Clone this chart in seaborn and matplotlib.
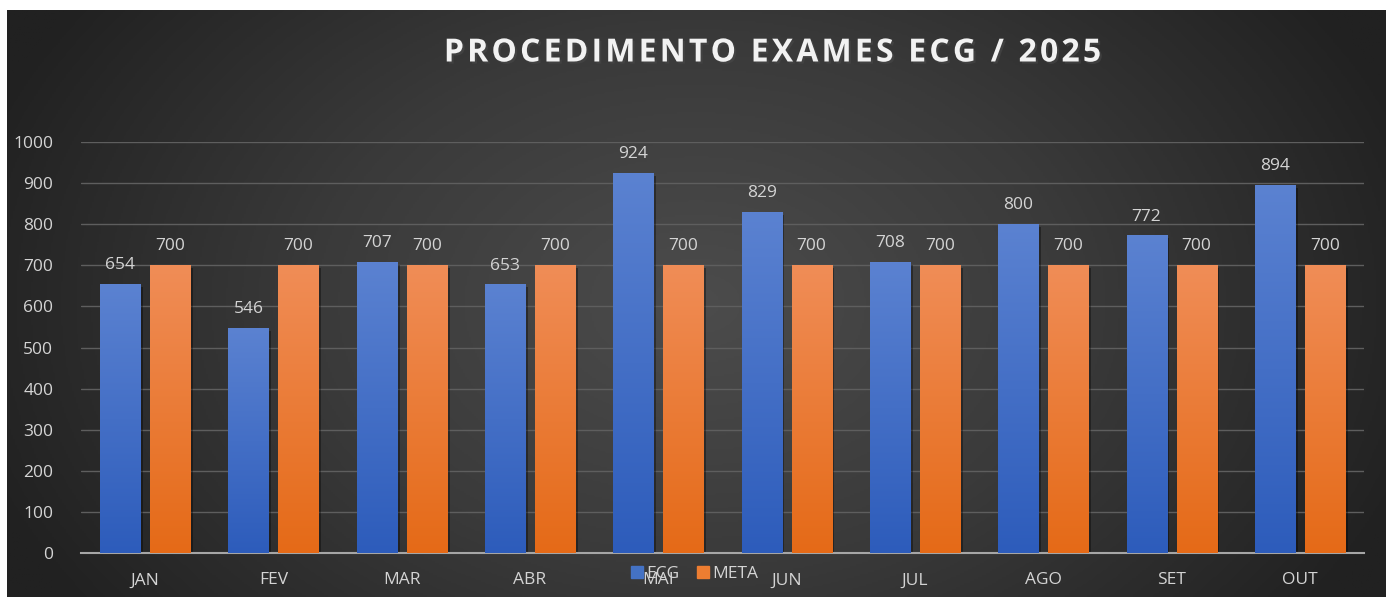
import numpy as np
import matplotlib
matplotlib.use('Agg')
import matplotlib.pyplot as plt
import matplotlib.patheffects as pe
from matplotlib.colors import LinearSegmentedColormap
from matplotlib.lines import Line2D
import pandas as pd
import seaborn as sns

months = ['JAN', 'FEV', 'MAR', 'ABR', 'MAI', 'JUN', 'JUL', 'AGO', 'SET', 'OUT']
ecg = [654, 546, 707, 653, 924, 829, 708, 800, 772, 894]
meta = [700, 700, 700, 700, 700, 700, 700, 700, 700, 700]
series = ['ECG', 'META']
title = 'PROCEDIMENTO EXAMES ECG / 2025'

df = pd.DataFrame({
    'mes': months * 2,
    'valor': ecg + meta,
    'serie': ['ECG'] * len(months) + ['META'] * len(months),
})

sns.set_theme(style='dark')
plt.rcParams['font.family'] = ['Open Sans', 'DejaVu Sans']
txt = '#d4d4d4'

fig = plt.figure(figsize=(13.86, 5.97), dpi=100, facecolor='white')

# dark radial background
bg = fig.add_axes([7 / 1386, 0, 1 - 7 / 1386, 1 - 10 / 597])
yy, xx = np.mgrid[0:1:300j, 0:1:700j]
r = np.sqrt(((xx - 0.5) / 0.55) ** 2 + ((yy - 0.5) / 0.9) ** 2)
bg_cmap = LinearSegmentedColormap.from_list('bg', ['#4c4c4c', '#3a3a3a', '#212121'])
bg.imshow(np.clip(r, 0, 1), cmap=bg_cmap, aspect='auto', extent=[0, 1, 0, 1], vmin=0, vmax=1)
bg.set_axis_off()

ax = fig.add_axes([81 / 1386, 44 / 597, (1364 - 81) / 1386, (553 - 142) / 597])
ax.set_facecolor('none')
sns.barplot(data=df, x='mes', y='valor', hue='serie', order=months, hue_order=series,
            palette=['#4472c4', '#ed7d31'], width=0.78, gap=0.2, ax=ax, legend=False,
            saturation=1, edgecolor='none')

grads = {
    'ECG': LinearSegmentedColormap.from_list('b', ['#2d5cbb', '#5b82d1']),
    'META': LinearSegmentedColormap.from_list('o', ['#e56a17', '#f08d57']),
}
grad = np.linspace(0, 1, 256).reshape(-1, 1)
for cont, name in zip(ax.containers, series):
    for bar in cont:
        x0, w, h = bar.get_x(), bar.get_width(), bar.get_height()
        bar.set_path_effects([pe.SimplePatchShadow(offset=(2, -2), shadow_rgbFace='black', alpha=0.35), pe.Normal()])
        ax.imshow(grad, cmap=grads[name], origin='lower', aspect='auto',
                  extent=[x0, x0 + w, 0, h], zorder=3)
    ax.bar_label(cont, padding=8, color=txt, fontsize=12.5)

ax.set_xlim(-0.5, len(months) - 0.5)
ax.set_ylim(0, 1000)
ax.set_yticks(np.arange(0, 1001, 100))
ax.yaxis.grid(True, color='#5e5e5e', linewidth=1)
ax.set_axisbelow(True)
ax.set_xlabel('')
ax.set_ylabel('')
for s in ['top', 'right', 'left']:
    ax.spines[s].set_visible(False)
ax.spines['bottom'].set_color('#a6a6a6')
ax.spines['bottom'].set_linewidth(1.5)
ax.tick_params(axis='x', colors=txt, labelsize=12.5, length=0, pad=14)
ax.tick_params(axis='y', colors=txt, labelsize=12.5, length=0, pad=20)

# letter-spaced title (hair spaces between letters)
spaced = '\u200a'.join(title)
fig.text(0.5585, 1 - 53 / 597, spaced, ha='center', va='center',
         fontsize=23, fontweight='bold', color='#f2f2f2',
         path_effects=[pe.withSimplePatchShadow(offset=(1.5, -1.5), alpha=0.6)])

handles = [Line2D([], [], marker='s', linestyle='', color='#4472c4', markersize=8),
           Line2D([], [], marker='s', linestyle='', color='#ed7d31', markersize=8)]
leg = fig.legend(handles, series, loc='center', bbox_to_anchor=(694 / 1386, 1 - 574 / 597),
                 ncol=2, frameon=False, fontsize=12.5, handletextpad=0.1, columnspacing=1.0,
                 handlelength=0.8)
for t in leg.get_texts():
    t.set_color(txt)

fig.savefig('out.png', dpi=100, facecolor='white')
